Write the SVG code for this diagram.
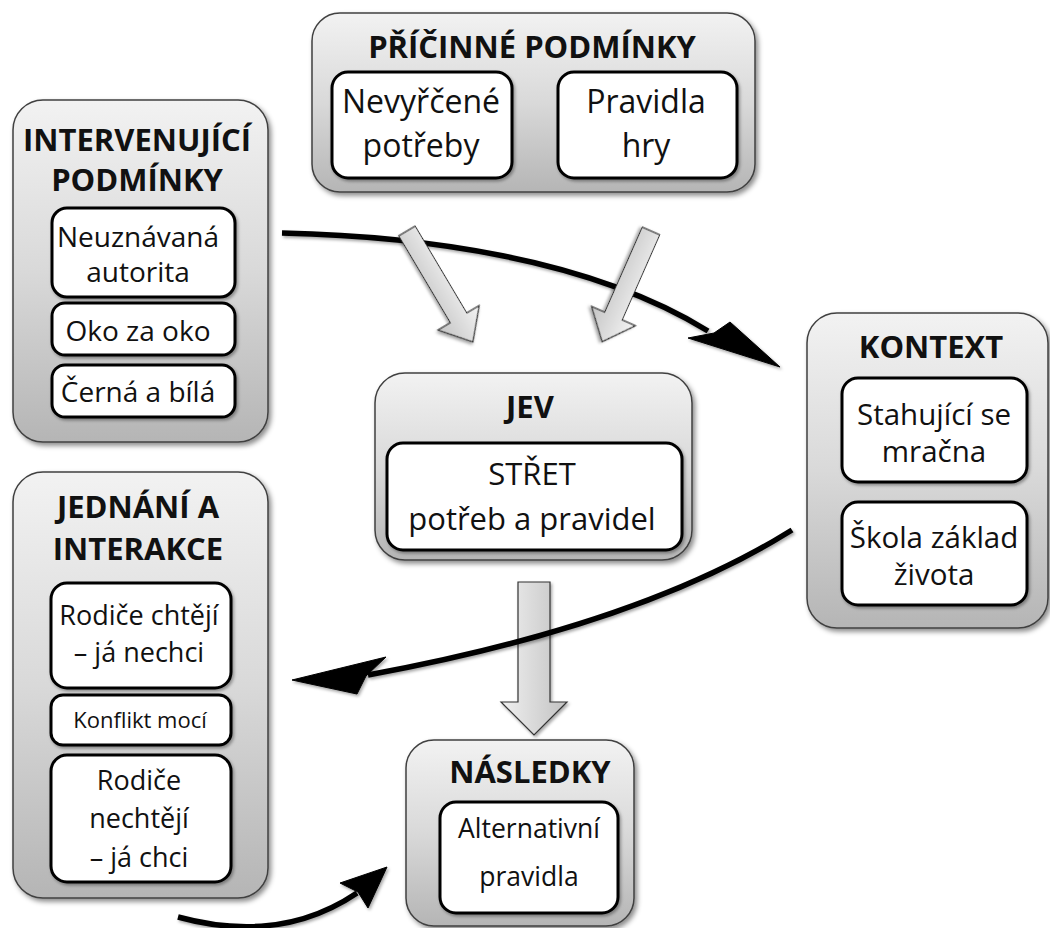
<svg xmlns="http://www.w3.org/2000/svg" width="1050" height="928" viewBox="0 0 1050 928">
<defs>
  <linearGradient id="gOuter" x1="0" y1="0" x2="0" y2="1">
    <stop offset="0" stop-color="#f2f2f2"/>
    <stop offset="0.5" stop-color="#d9d9d9"/>
    <stop offset="1" stop-color="#b5b5b5"/>
  </linearGradient>
  <linearGradient id="gArrowRot" x1="0" y1="0" x2="0" y2="1">
    <stop offset="0" stop-color="#f4f4f4"/>
    <stop offset="1" stop-color="#c4c4c4"/>
  </linearGradient>
  <linearGradient id="gArrowV" x1="0" y1="0" x2="1" y2="0">
    <stop offset="0" stop-color="#f0f0f0"/>
    <stop offset="1" stop-color="#c2c2c2"/>
  </linearGradient>
  <filter id="sh" x="-10%" y="-10%" width="125%" height="125%">
    <feDropShadow dx="2.5" dy="3" stdDeviation="2.5" flood-color="#000" flood-opacity="0.45"/>
  </filter>
  <filter id="sh2" x="-10%" y="-10%" width="125%" height="125%">
    <feDropShadow dx="1.5" dy="2" stdDeviation="1.5" flood-color="#000" flood-opacity="0.35"/>
  </filter>
  <filter id="sh3" x="-10%" y="-20%" width="125%" height="150%">
    <feDropShadow dx="1.5" dy="2" stdDeviation="1.5" flood-color="#000" flood-opacity="0.35"/>
  </filter>
</defs>
<style>
  .outer { fill: url(#gOuter); stroke: #404040; stroke-width: 1.5; filter: url(#sh); }
  .inner { fill: #ffffff; stroke: #000000; stroke-width: 3; filter: url(#sh2); }
  .title { font-family: "Open Sans", "DejaVu Sans", sans-serif; font-weight: 700; font-size: 31px; text-anchor: middle; fill: #111111; }
  .txt { font-family: "Open Sans", "DejaVu Sans", sans-serif; font-weight: 400; text-anchor: middle; fill: #111111; }
  .blkR { fill: url(#gArrowRot); stroke: #333333; stroke-width: 1.2; filter: url(#sh2); }
  .blkV { fill: url(#gArrowV); stroke: #333333; stroke-width: 1.2; filter: url(#sh2); }
  .curve { fill: none; stroke: #000000; stroke-width: 5.5; filter: url(#sh3); }
  .head { fill: #000000; stroke: #000000; stroke-width: 1; stroke-linejoin: round; filter: url(#sh3); }
</style>

<rect width="1050" height="928" fill="#ffffff"/>

<g id="causal-conditions">
  <rect class="outer" x="312" y="13" width="443" height="179" rx="28"/>
  <text class="title" x="532" y="58" font-size="32">PŘÍČINNÉ PODMÍNKY</text>
  <rect class="inner" x="332" y="72" width="180" height="106" rx="16"/>
  <text class="txt" x="421" y="113" font-size="32">Nevyřčené</text>
  <text class="txt" x="421" y="157" font-size="32">potřeby</text>
  <rect class="inner" x="558" y="72" width="179" height="106" rx="16"/>
  <text class="txt" x="646" y="113" font-size="32">Pravidla</text>
  <text class="txt" x="646" y="157" font-size="32">hry</text>
</g>

<g id="intervening-conditions">
  <rect class="outer" x="13" y="100" width="255" height="342" rx="30"/>
  <text class="title" x="137" y="151">INTERVENUJÍCÍ</text>
  <text class="title" x="137" y="191">PODMÍNKY</text>
  <rect class="inner" x="52" y="208" width="183" height="89" rx="15"/>
  <text class="txt" x="138" y="247" font-size="28">Neuznávaná</text>
  <text class="txt" x="138" y="282" font-size="28">autorita</text>
  <rect class="inner" x="52" y="303" width="183" height="52" rx="13"/>
  <text class="txt" x="138" y="341" font-size="28">Oko za oko</text>
  <rect class="inner" x="52" y="365" width="183" height="52" rx="13"/>
  <text class="txt" x="138" y="402" font-size="28">Černá a bílá</text>
</g>

<g id="actions-interactions">
  <rect class="outer" x="13" y="472" width="255" height="426" rx="30"/>
  <text class="title" x="138" y="518">JEDNÁNÍ A</text>
  <text class="title" x="138" y="560">INTERAKCE</text>
  <rect class="inner" x="51" y="583" width="180" height="105" rx="16"/>
  <text class="txt" x="139" y="625" font-size="27">Rodiče chtějí</text>
  <text class="txt" x="139" y="662" font-size="27">– já nechci</text>
  <rect class="inner" x="51" y="695" width="180" height="50" rx="12"/>
  <text class="txt" x="140" y="728" font-size="22">Konflikt mocí</text>
  <rect class="inner" x="51" y="755" width="180" height="127" rx="16"/>
  <text class="txt" x="139" y="790" font-size="27">Rodiče</text>
  <text class="txt" x="139" y="828" font-size="27">nechtějí</text>
  <text class="txt" x="139" y="867" font-size="27">– já chci</text>
</g>

<g id="context">
  <rect class="outer" x="807" y="313" width="241" height="315" rx="30"/>
  <text class="title" x="931" y="358">KONTEXT</text>
  <rect class="inner" x="842" y="378" width="185" height="104" rx="16"/>
  <text class="txt" x="934" y="425" font-size="29.5">Stahující se</text>
  <text class="txt" x="934" y="462" font-size="29.5">mračna</text>
  <rect class="inner" x="842" y="502" width="185" height="103" rx="16"/>
  <text class="txt" x="934" y="548" font-size="29.5">Škola základ</text>
  <text class="txt" x="934" y="585" font-size="29.5">života</text>
</g>

<g id="phenomenon">
  <rect class="outer" x="375" y="373" width="317" height="187" rx="30"/>
  <text class="title" x="530" y="418" font-size="34">JEV</text>
  <rect class="inner" x="387" y="443" width="295" height="107" rx="16"/>
  <text class="txt" x="532" y="485" font-size="31">STŘET</text>
  <text class="txt" x="532" y="530" font-size="31">potřeb a pravidel</text>
</g>

<g id="consequences">
  <rect class="outer" x="406" y="740" width="228" height="186" rx="28"/>
  <text class="title" x="530" y="783">NÁSLEDKY</text>
  <rect class="inner" x="440" y="802" width="178" height="111" rx="16"/>
  <text class="txt" x="529" y="838" font-size="26.5">Alternativní</text>
  <text class="txt" x="529" y="886" font-size="26.5">pravidla</text>
</g>

<g id="connectors">
  <!-- intervening -> context (black curve) -->
  <path class="curve" d="M282,233 C420,236 590,258 708,331"/>
  <path class="head" d="M688,338 L780,367 L730,322 L714,333 Z"/>
  <!-- causal -> phenomenon (block arrows) -->
  <path class="blkR" transform="translate(407,231) rotate(59.3)" d="M0,-9.5 L101,-9.5 L101,-24 L129,0 L101,24 L101,9.5 L0,9.5 Z"/>
  <path class="blkR" transform="translate(651,231) rotate(113.8)" d="M0,-9.5 L93,-9.5 L93,-24 L121,0 L93,24 L93,9.5 L0,9.5 Z"/>
  <!-- phenomenon -> consequences -->
  <path class="blkV" d="M518,582 L550,582 L550,702 L567,702 L534,735 L501,702 L518,702 Z"/>
  <!-- context -> actions (black curve) -->
  <path class="curve" d="M792,530 Q640,625 368,675"/>
  <path class="head" d="M386,657 L292,680 L357,694 L366,676 Z"/>
  <!-- actions -> consequences (black curve) -->
  <path class="curve" d="M178,917 Q280,945 357,893"/>
  <path class="head" d="M340,883 L387,867 L368,908 L358,892 Z"/>
</g>
</svg>
